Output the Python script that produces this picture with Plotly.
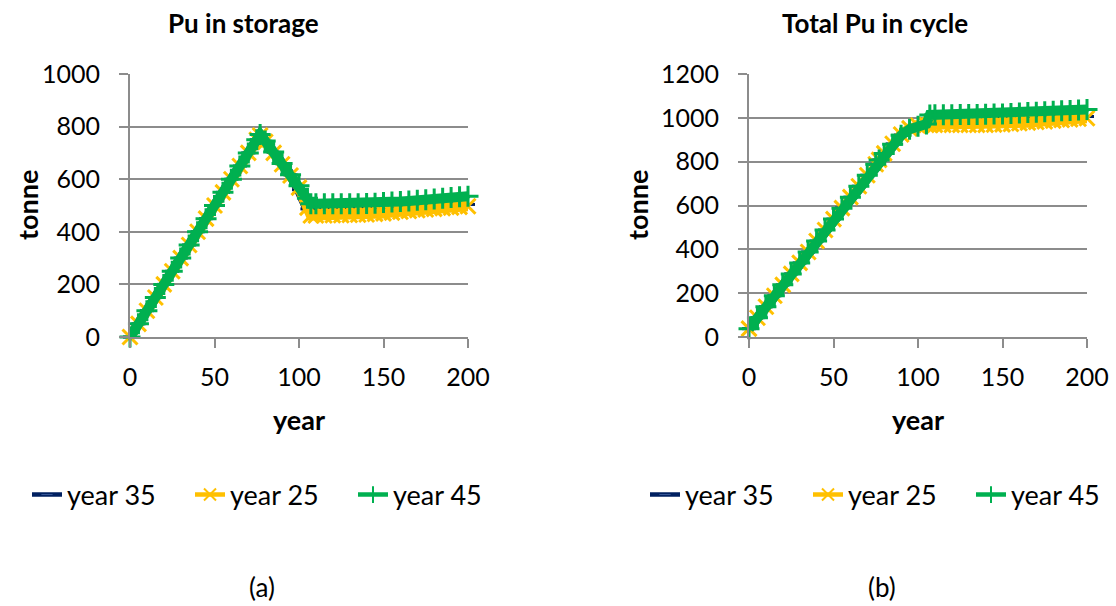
import plotly.graph_objects as go

# ---------------- data ----------------
YEARS = [0, 5, 10, 15, 20, 25, 30, 35, 40, 45, 50, 55, 60, 65, 70, 75, 77,
         80, 85, 90, 95, 100, 105, 107,
         110, 115, 120, 125, 130, 135, 140, 145, 150, 155, 160, 165, 170,
         175, 180, 185, 190, 195, 200]

SERIES_NAMES = ["year 35", "year 25", "year 45"]

# Pu in storage (tonne)
STORAGE_Y35 = [0, 50, 100, 150, 200, 250, 300, 350, 400, 450, 500, 550, 600, 650, 700, 750, 768,
               744, 702, 659, 616, 560, 487, 482,
               482, 482, 483, 483, 484, 485, 486, 487, 488, 490, 492, 494, 496,
               497, 499, 500, 501, 503, 504]
STORAGE_Y25 = [0, 50, 100, 150, 200, 250, 300, 350, 400, 450, 500, 550, 600, 650, 700, 750, 766,
               742, 700, 657, 614, 568, 492, 462,
               462, 462, 463, 463, 464, 465, 466, 468, 470, 473, 476, 479, 482,
               485, 487, 490, 492, 495, 497]
STORAGE_Y45 = [0, 50, 100, 150, 200, 250, 300, 350, 400, 450, 500, 550, 600, 650, 700, 750, 770,
               745, 703, 660, 617, 575, 528, 507,
               507, 507, 507, 507, 507, 507, 508, 509, 511, 513, 515, 517, 520,
               522, 525, 528, 530, 533, 535]

# Total Pu in cycle (tonne)
CYCLE_Y35 = [38, 88, 138, 188, 238, 288, 338, 388, 438, 488, 538, 588, 638, 688, 738, 788, 808,
             837, 881, 922, 950, 963, 970, 990,
             991, 991, 991, 991, 992, 992, 992, 993, 994, 995, 996, 997, 998,
             999, 1000, 1001, 1003, 1004, 1006]
CYCLE_Y25 = [38, 88, 138, 188, 238, 288, 338, 388, 438, 488, 538, 588, 638, 688, 738, 788, 808,
             838, 882, 924, 952, 965, 968, 968,
             968, 968, 968, 968, 968, 968, 968, 969, 970, 972, 975, 978, 981,
             984, 987, 990, 993, 996, 998]
CYCLE_Y45 = [38, 88, 138, 188, 238, 288, 338, 388, 438, 488, 538, 588, 638, 688, 738, 788, 808,
             837, 880, 920, 948, 962, 972, 1013,
             1014, 1014, 1014, 1015, 1015, 1015, 1016, 1017, 1018, 1020, 1022, 1024, 1026,
             1028, 1030, 1032, 1034, 1036, 1038]

X_TICKS = [0, 50, 100, 150, 200]
STORAGE_TICKS = [0, 200, 400, 600, 800, 1000]
CYCLE_TICKS = [0, 200, 400, 600, 800, 1000, 1200]

TITLES = ["Pu in storage", "Total Pu in cycle"]
CAPTIONS = ["(a)", "(b)"]

# ---------------- styling ----------------
W, H = 1116, 606
FONT = "Lato"
NAVY, YELLOW, GREEN = "#002060", "#FFC000", "#00B050"
GRAY = "#8c8c8c"

fig = go.Figure()

styles = [
    dict(color=NAVY, symbol="line-ew", size=10),
    dict(color=YELLOW, symbol="x-thin", size=15),
    dict(color=GREEN, symbol="cross-thin", size=15),
]


def add_series(values_list, xa, ya, legend):
    for name, vals, st in zip(SERIES_NAMES, values_list, styles):
        # data trace
        fig.add_trace(go.Scatter(
            x=YEARS, y=vals, name=name, mode="lines+markers",
            xaxis=xa, yaxis=ya, legend=legend, legendgroup=legend + name,
            showlegend=False, cliponaxis=False,
            line=dict(color=st["color"], width=10),
            marker=dict(symbol=st["symbol"], size=st["size"], color=st["color"],
                        line=dict(color=st["color"], width=3)),
        ))
        # legend entry (thinner sample like the reference)
        is_navy = st["symbol"] == "line-ew"
        mcol = "#3a5a9a" if is_navy else st["color"]
        fig.add_trace(go.Scatter(
            x=[None], y=[None], name=name, mode="lines+markers",
            xaxis=xa, yaxis=ya, legend=legend, legendgroup=legend + name,
            showlegend=True,
            line=dict(color=st["color"], width=4.5),
            marker=dict(symbol=st["symbol"], size=8 if is_navy else 12, color=mcol,
                        line=dict(color=mcol, width=1 if is_navy else 2)),
        ))


add_series([STORAGE_Y35, STORAGE_Y25, STORAGE_Y45], "x", "y", "legend")
add_series([CYCLE_Y35, CYCLE_Y25, CYCLE_Y45], "x2", "y2", "legend2")


def px_x(p):
    return p / W


def px_y(p):
    return 1 - p / H


ydom = [px_y(337), px_y(74)]
axis_common = dict(showline=True, linecolor=GRAY, linewidth=2, ticks="outside",
                   ticklen=9, tickwidth=2, tickcolor=GRAY, zeroline=False,
                   tickfont=dict(family=FONT, size=25, color="black"))

fig.update_layout(
    width=W, height=H, margin=dict(l=0, r=0, t=0, b=0, autoexpand=False),
    paper_bgcolor="white", plot_bgcolor="white",
    font=dict(family=FONT, size=26, color="black"),
    xaxis=dict(domain=[px_x(130), px_x(468)], anchor="y", range=[0, 200],
               tickvals=X_TICKS, showgrid=False, ticklabelstandoff=8, **axis_common),
    yaxis=dict(domain=ydom, anchor="x", range=[0, 1000], tickvals=STORAGE_TICKS,
               showgrid=True, gridcolor=GRAY, gridwidth=2, ticklabelstandoff=14, **axis_common),
    xaxis2=dict(domain=[px_x(749), px_x(1087)], anchor="y2", range=[0, 200],
                tickvals=X_TICKS, showgrid=False, ticklabelstandoff=8, **axis_common),
    yaxis2=dict(domain=ydom, anchor="x2", range=[0, 1200], tickvals=CYCLE_TICKS,
                showgrid=True, gridcolor=GRAY, gridwidth=2, ticklabelstandoff=14, **axis_common),
    legend=dict(orientation="h", x=px_x(27), xanchor="left", y=px_y(495), yanchor="middle",
                font=dict(family=FONT, size=27), entrywidth=118, entrywidthmode="pixels",
                bgcolor="rgba(0,0,0,0)"),
    legend2=dict(orientation="h", x=px_x(645), xanchor="left", y=px_y(495), yanchor="middle",
                 font=dict(family=FONT, size=27), entrywidth=118, entrywidthmode="pixels",
                 bgcolor="rgba(0,0,0,0)"),
)

ann = []
for text, cx in zip(TITLES, [243, 875]):
    ann.append(dict(text=f"<b>{text}</b>", x=px_x(cx), y=px_y(23), xref="paper", yref="paper",
                    showarrow=False, xanchor="center", yanchor="middle",
                    font=dict(family=FONT, size=26)))
for cx in [28, 638]:
    ann.append(dict(text="<b>tonne</b>", x=px_x(cx), y=px_y(205), xref="paper", yref="paper",
                    showarrow=False, textangle=-90, xanchor="center", yanchor="middle",
                    font=dict(family=FONT, size=27)))
for cx in [299, 918]:
    ann.append(dict(text="<b>year</b>", x=px_x(cx), y=px_y(420), xref="paper", yref="paper",
                    showarrow=False, xanchor="center", yanchor="middle",
                    font=dict(family=FONT, size=27)))
for text, cx in zip(CAPTIONS, [262, 882]):
    ann.append(dict(text=text, x=px_x(cx), y=px_y(587), xref="paper", yref="paper",
                    showarrow=False, xanchor="center", yanchor="middle",
                    font=dict(family=FONT, size=26)))
fig.update_layout(annotations=ann)

fig.write_html("out.html", config={"displayModeBar": False},
               post_script="document.body.style.margin='0';document.body.style.padding='0';")
